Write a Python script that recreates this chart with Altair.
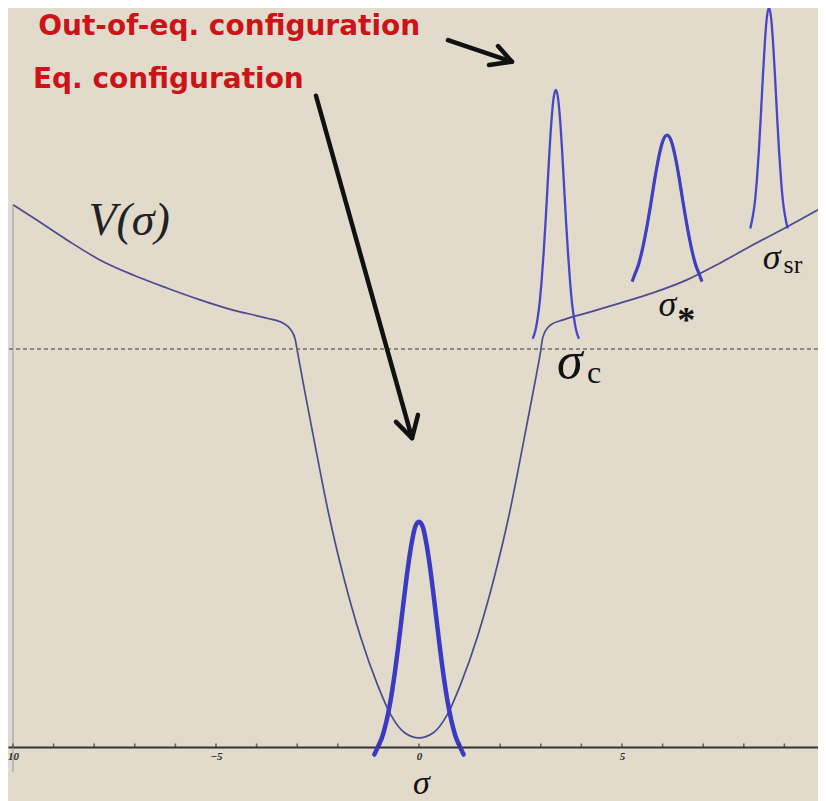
import altair as alt
import pandas as pd

# ---------------- data ----------------
# Potential V(sigma)
pot_sigma = [-10.0, -9.5, -8.67, -7.86, -7.04, -6.21, -5.39, -4.58, -3.74, -3.35, -3.15, -3.05, -3.0,
             -2.81, -2.56, -2.22, -1.85, -1.43, -1.03, -0.69, -0.345, 0.0,
             0.345, 0.69, 1.03, 1.43, 1.85, 2.22, 2.56, 2.81, 3.0,
             3.05, 3.23, 3.55, 4.14, 4.95, 5.76, 6.60, 7.41, 8.23, 9.06, 9.95]
pot_value = [10.04, 9.80, 9.39, 9.02, 8.74, 8.50, 8.28, 8.09, 7.94, 7.85, 7.72, 7.55, 7.35,
             6.57, 5.59, 4.30, 3.13, 2.02, 1.17, 0.59, 0.26, 0.17,
             0.26, 0.59, 1.17, 2.02, 3.13, 4.30, 5.59, 6.57, 7.35,
             7.59, 7.81, 7.91, 8.04, 8.22, 8.41, 8.65, 8.96, 9.30, 9.63, 10.0]

# Equilibrium distribution (thick)
eq_sigma = [-1.1, -1.0, -0.9, -0.8, -0.7, -0.6, -0.5, -0.4, -0.3, -0.2, -0.1, 0.0,
            0.1, 0.2, 0.3, 0.4, 0.5, 0.6, 0.7, 0.8, 0.9, 1.0, 1.1]
eq_value = [-0.14, 0.02, 0.20, 0.48, 0.86, 1.35, 1.93, 2.56, 3.17, 3.69, 4.06, 4.17,
            4.06, 3.69, 3.17, 2.56, 1.93, 1.35, 0.86, 0.48, 0.20, 0.02, -0.14]

# Out-of-equilibrium distributions
g1_sigma = [2.80, 2.87, 2.92, 2.97, 3.02, 3.07, 3.12, 3.17, 3.22, 3.27, 3.32, 3.37,
            3.42, 3.47, 3.52, 3.57, 3.62, 3.67, 3.72, 3.77, 3.82, 3.87, 3.94]
g1_value = [7.56, 7.72, 7.93, 8.22, 8.63, 9.15, 9.76, 10.44, 11.11, 11.67, 12.04, 12.17,
            12.04, 11.67, 11.11, 10.44, 9.76, 9.15, 8.63, 8.22, 7.93, 7.72, 7.56]
g2_sigma = [5.25, 5.31, 5.41, 5.51, 5.61, 5.71, 5.81, 5.91, 6.01, 6.11,
            6.21, 6.31, 6.41, 6.51, 6.61, 6.71, 6.81, 6.91, 6.97]
g2_value = [8.62, 8.74, 8.94, 9.24, 9.62, 10.06, 10.53, 10.94, 11.23, 11.33,
            11.23, 10.94, 10.53, 10.06, 9.62, 9.24, 8.94, 8.74, 8.62]
g3_sigma = [8.16, 8.22, 8.27, 8.32, 8.37, 8.42, 8.47, 8.52, 8.57, 8.62,
            8.67, 8.72, 8.77, 8.82, 8.87, 8.92, 8.97, 9.02, 9.08]
g3_value = [9.60, 9.82, 10.07, 10.48, 11.02, 11.69, 12.41, 13.06, 13.52, 13.69,
            13.52, 13.06, 12.41, 11.69, 11.02, 10.48, 10.07, 9.82, 9.60]

# Horizontal dashed level, vertical axis line
dashed_level = [7.37]
yaxis_sigma = [-10.0]
yaxis_from = [-0.46]
yaxis_to = [10.04]

# Axis ticks and labels
tick_sigma = [-10, -9, -8, -7, -6, -5, -4, -3, -2, -1, 0, 1, 2, 3, 4, 5, 6, 7, 8, 9, 10]
label_sigma = [-10, -5, 0, 5, 10]

# Arrows (shaft, head) in data coordinates
arrow_part = ["s1", "s1", "h1", "h1", "h1", "s2", "s2", "h2", "h2", "h2"]
arrow_order = [0, 1, 0, 1, 2, 0, 1, 0, 1, 2]
arrow_sigma = [0.714, 2.29, 1.946, 2.29, 1.724, -2.537, -0.172, -0.567, -0.172, -0.025]
arrow_value = [13.09, 12.69, 12.98, 12.69, 12.63, 12.06, 5.72, 6.02, 5.72, 6.15]

# Texts
red_text = ["Out-of-eq. configuration", "Eq. configuration"]
red_sigma = [-9.38, -9.51]
red_value = [13.19, 12.20]

big_sig_text = ["σ"]
big_sig_sigma = [3.40]
big_sig_value = [6.83]

sig_text = ["σ", "σ"]
sig_sigma = [5.90, 8.47]
sig_value = [7.98, 8.85]

sub_text = ["c", "sr"]
sub_sigma = [4.14, 8.98]
sub_value = [6.74, 8.78]
sub_size = [32, 26]

star_text = ["*"]
star_sigma = [6.36]
star_value = [7.69]

v_text = ["V(σ)"]
v_sigma = [-7.14]
v_value = [9.48]

# ---------------- chart ----------------
W, H = 810, 793
xs = alt.Scale(domain=[-10.123, 9.828], nice=False, zero=False)
ys = alt.Scale(domain=[-1.0, 13.685], nice=False, zero=False)

x_axis = alt.Axis(
    values=label_sigma,
    labelExpr="datum.value == -10 ? '10' : datum.label",
    labelFlush=True,
    ticks=False, tickSize=0, grid=False,
    domainColor="#333333", domainWidth=2,
    labelFont="Liberation Serif", labelFontStyle="italic", labelFontWeight="bold",
    labelFontSize=11, labelColor="#2a2a2a", labelPadding=3,
    offset=-54,
    title="σ", titleFont="Liberation Serif", titleFontStyle="italic",
    titleFontWeight="normal", titleFontSize=34, titleColor="#111111",
    titleX=413, titleY=46.5, titleBaseline="alphabetic", titleAlign="center",
)
X = alt.X("sigma:Q", scale=xs, axis=x_axis)
Y = alt.Y("value:Q", scale=ys, axis=None)

pot_df = pd.DataFrame({"sigma": pot_sigma, "value": pot_value})
potential = alt.Chart(pot_df).mark_line(
    color="#4b4b8e", strokeWidth=1.7, interpolate="monotone"
).encode(x=X, y=Y)

dashed = alt.Chart(pd.DataFrame({"value": dashed_level})).mark_rule(
    color="#6e6e6e", strokeDash=[4, 3], strokeWidth=1.5
).encode(y=Y)

yaxis = alt.Chart(pd.DataFrame({"sigma": yaxis_sigma, "lo": yaxis_from, "hi": yaxis_to})).mark_rule(
    color="#9a9a9a", strokeWidth=1
).encode(x=X, y=alt.Y("lo:Q", scale=ys, axis=None), y2="hi:Q")

ticks = alt.Chart(pd.DataFrame({"sigma": tick_sigma, "value": [0] * len(tick_sigma)})).mark_tick(
    orient="vertical", size=4, thickness=1.6, color="#333333", yOffset=-1.5
).encode(x=X, y=Y)

eq_df = pd.DataFrame({"sigma": eq_sigma, "value": eq_value})
eq_curve = alt.Chart(eq_df).mark_line(
    color="#3a3ac4", strokeWidth=4.5, interpolate="monotone", strokeCap="round"
).encode(x=X, y=Y)

g_df = pd.concat([
    pd.DataFrame({"sigma": g1_sigma, "value": g1_value, "curve": "g1"}),
    pd.DataFrame({"sigma": g2_sigma, "value": g2_value, "curve": "g2"}),
    pd.DataFrame({"sigma": g3_sigma, "value": g3_value, "curve": "g3"}),
])
g_thin = alt.Chart(g_df).mark_line(
    color="#4646c8", strokeWidth=2.3, interpolate="monotone"
).encode(x=X, y=Y, detail="curve:N")
g_mid = alt.Chart(g_df[g_df.curve == "g2"]).mark_line(
    color="#4040c4", strokeWidth=3.2, interpolate="monotone"
).encode(x=X, y=Y)

arrow_df = pd.DataFrame({"part": arrow_part, "ord": arrow_order,
                         "sigma": arrow_sigma, "value": arrow_value})
arrows = alt.Chart(arrow_df).mark_line(
    color="#111111", strokeWidth=4.5, strokeCap="round", strokeJoin="round"
).encode(x=X, y=Y, detail="part:N", order="ord:Q")

red = alt.Chart(pd.DataFrame({"t": red_text, "sigma": red_sigma, "value": red_value})).mark_text(
    align="left", baseline="alphabetic", font="DejaVu Sans", fontWeight="bold",
    fontSize=28, color="#cc1418"
).encode(x=X, y=Y, text="t:N")

big_sig = alt.Chart(pd.DataFrame({"t": big_sig_text, "sigma": big_sig_sigma, "value": big_sig_value})).mark_text(
    align="left", baseline="alphabetic", font="Liberation Serif", fontStyle="italic",
    fontSize=52, color="#111111"
).encode(x=X, y=Y, text="t:N")

sigs = alt.Chart(pd.DataFrame({"t": sig_text, "sigma": sig_sigma, "value": sig_value})).mark_text(
    align="left", baseline="alphabetic", font="Liberation Serif", fontStyle="italic",
    fontSize=36, color="#111111"
).encode(x=X, y=Y, text="t:N")

subs = alt.Chart(pd.DataFrame({"t": sub_text, "sigma": sub_sigma, "value": sub_value, "fs": sub_size})).mark_text(
    align="left", baseline="alphabetic", font="Liberation Serif", color="#111111"
).encode(x=X, y=Y, text="t:N", size=alt.Size("fs:Q", scale=None, legend=None))

star = alt.Chart(pd.DataFrame({"t": star_text, "sigma": star_sigma, "value": star_value})).mark_text(
    align="left", baseline="alphabetic", font="Liberation Serif", fontWeight="bold",
    fontSize=36, color="#111111"
).encode(x=X, y=Y, text="t:N")

vlabel = alt.Chart(pd.DataFrame({"t": v_text, "sigma": v_sigma, "value": v_value})).mark_text(
    align="center", baseline="alphabetic", font="Liberation Serif", fontStyle="italic",
    fontSize=46, color="#222222"
).encode(x=X, y=Y, text="t:N")

chart = alt.layer(
    potential, dashed, yaxis, eq_curve, g_thin, g_mid, ticks, arrows,
    red, big_sig, sigs, subs, star, vlabel
).properties(
    width=W, height=H,
    autosize=alt.AutoSizeParams(type="none"),
    padding=0,
    background="#e2dbcc",
).configure_view(stroke=None, fill="#e2dbcc")

chart.save("out.html", embed_options={"renderer": "svg", "actions": False})
